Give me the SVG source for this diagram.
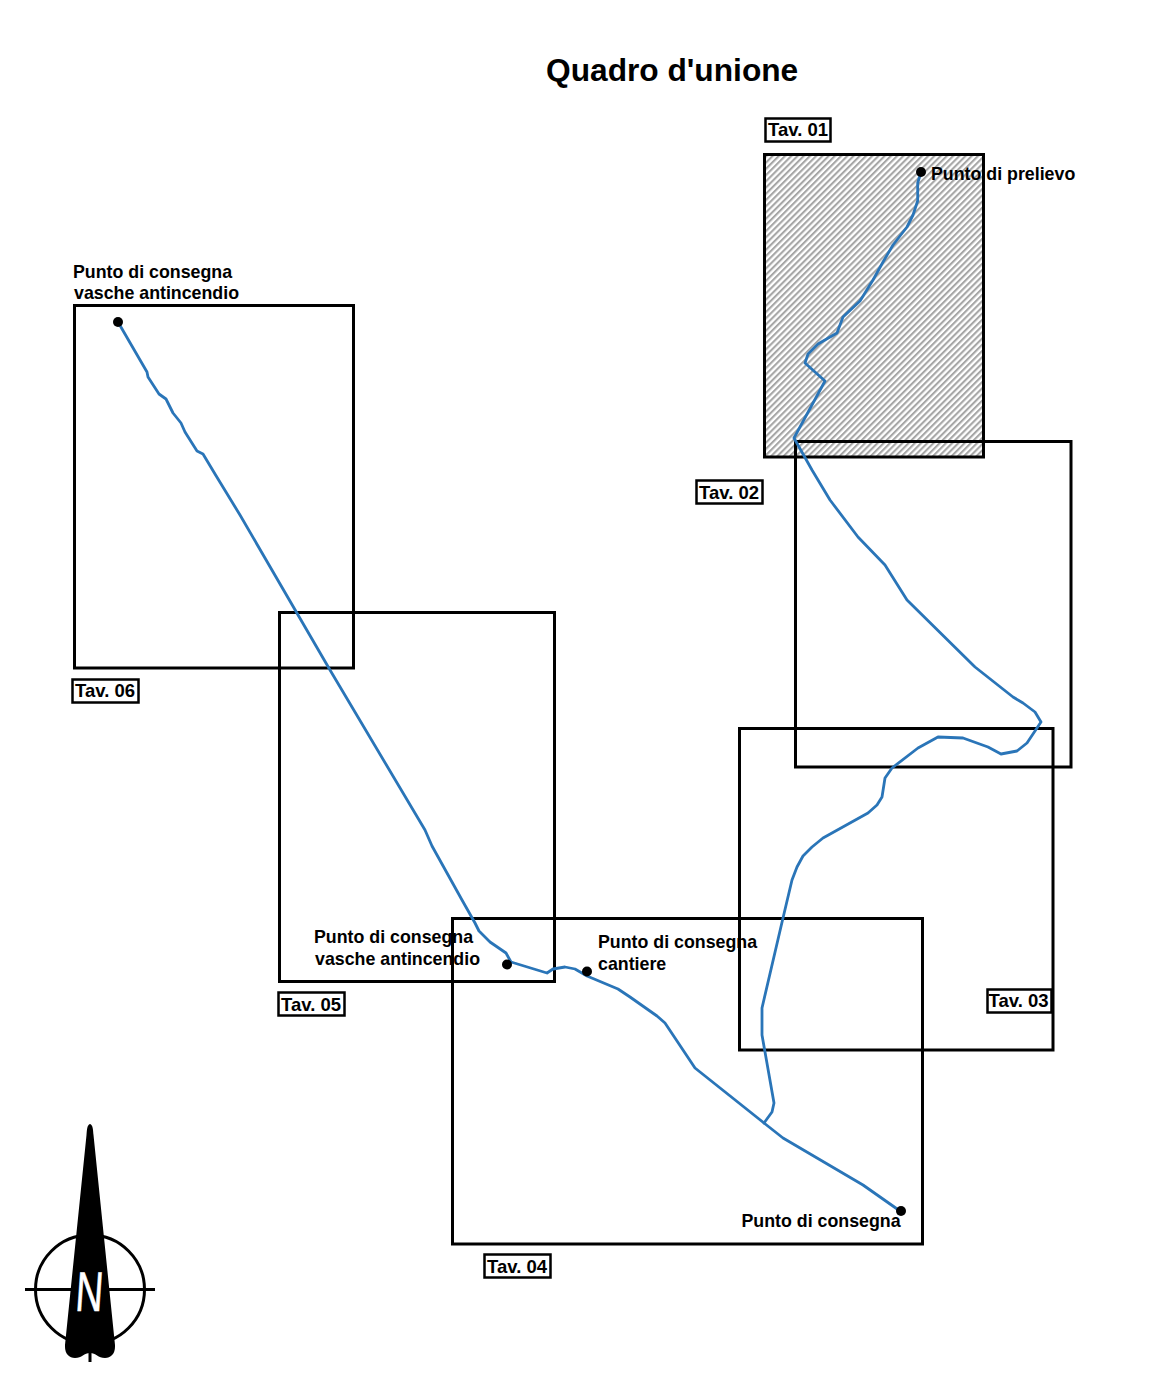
<svg xmlns="http://www.w3.org/2000/svg" width="1155" height="1400" viewBox="0 0 1155 1400">
<defs>
<pattern id="hatch" width="4.4" height="4.4" patternUnits="userSpaceOnUse" patternTransform="rotate(45)">
<rect width="4.4" height="4.4" fill="#fff"/>
<rect x="0" width="2.1" height="4.4" fill="#a6a6a6"/>
</pattern>
</defs>
<style>
text{font-family:"Liberation Sans",Arial,sans-serif;font-weight:bold;fill:#000;font-size:17.8px}
.sheet{fill:none;stroke:#000;stroke-width:3}
.tag{fill:#fff;stroke:#000;stroke-width:2.5}
.tagtext{font-size:18.500px}
.pipe{fill:none;stroke:#2a75b8;stroke-width:2.8;stroke-linejoin:round;stroke-linecap:round}
.dot{fill:#000}
</style>
<rect width="1155" height="1400" fill="#fff"/>
<text id="title" x="546" y="80.500" style="font-size:31.700px">Quadro d'unione</text>
<g id="tav01-sheet"><rect x="764.500" y="154.500" width="219" height="302.500" fill="url(#hatch)" stroke="#000" stroke-width="3"/></g>
<g id="tav06-sheet"><rect class="sheet" x="74.500" y="305.500" width="279" height="362.500"/></g>
<g id="tav05-sheet"><rect class="sheet" x="279.500" y="612.500" width="275" height="369"/></g>
<g id="tav02-sheet"><rect class="sheet" x="795.500" y="441.500" width="275.500" height="325.500"/></g>
<g id="tav03-sheet"><rect class="sheet" x="739.500" y="728.500" width="313.500" height="321.500"/></g>
<g id="tav04-sheet"><rect class="sheet" x="452.500" y="918.500" width="470" height="325.500"/></g>
<g id="connectors">
<path class="pipe" d="M118 322L147 372L148 377L159 394L166 399L173 413L181 423L185 432L197 451L203 454L215 474L240 515L330 670L425 830L432 846L462 900L475 923L479 931L490 942L506 953L511 962L547 973L553 969L565 967L575 969L587 976L618 989L630 997L657 1016L665 1023L695 1068L764 1123L783 1138L863 1185L900 1211"/>
<path class="pipe" d="M921 172L917.700 183L917.700 200.700L913 215L907 227L893 245L883 262L873 280L860 301L843 317L837 333L818 344L808 354L805 363L825 381L794 438L812 470L830 500L858 537L885 565L907 600L975 667L1013 697L1023 703L1035 712L1041 722L1027 743L1017 751L1001 754L988 747L963 738L938 737L918 748L892 768L885 778L882 797L877 805L868 813L823 838L812 847L803 856L797 867L792 880L783 918L762 1008L762 1035L774 1103L772 1112L764 1123"/>
</g>
<g id="point-prelievo"><circle class="dot" cx="921" cy="172" r="5"/><text x="931" y="180">Punto di prelievo</text></g>
<g id="point-vasche-1"><circle class="dot" cx="118" cy="322" r="5"/><text x="73" y="278">Punto di consegna</text><text x="74" y="299">vasche antincendio</text></g>
<g id="point-vasche-2"><circle class="dot" cx="507" cy="964.500" r="5"/><text x="314" y="943">Punto di consegna</text><text x="315" y="964.500">vasche antincendio</text></g>
<g id="point-cantiere"><circle class="dot" cx="587" cy="971.500" r="5"/><text x="598" y="948">Punto di consegna</text><text x="598" y="969.500">cantiere</text></g>
<g id="point-consegna"><circle class="dot" cx="901" cy="1211" r="5"/><text x="741.500" y="1227">Punto di consegna</text></g>
<g id="tag01"><rect class="tag" x="765.500" y="118.500" width="65" height="23"/><text class="tagtext" x="768" y="136">Tav. 01</text></g>
<g id="tag02"><rect class="tag" x="696.500" y="480.500" width="66" height="23"/><text class="tagtext" x="699" y="498.500">Tav. 02</text></g>
<g id="tag03"><rect class="tag" x="987.500" y="989.500" width="64" height="23"/><text class="tagtext" x="988.500" y="1007">Tav. 03</text></g>
<g id="tag04"><rect class="tag" x="484.500" y="1254.500" width="66" height="23"/><text class="tagtext" x="487" y="1272.500">Tav. 04</text></g>
<g id="tag05"><rect class="tag" x="278.500" y="992.500" width="66" height="23"/><text class="tagtext" x="281" y="1010.500">Tav. 05</text></g>
<g id="tag06"><rect class="tag" x="72.500" y="679.500" width="66" height="23"/><text class="tagtext" x="75" y="697">Tav. 06</text></g>
<g id="north-arrow">
<circle cx="90" cy="1289.500" r="54.500" fill="none" stroke="#000" stroke-width="3"/>
<path d="M25 1289.500H155M90 1345V1362" stroke="#000" stroke-width="3" fill="none"/>
<path d="M90 1124C87 1125 87 1130 86.500 1135L65 1345C64.500 1354 69 1358 75 1358C82 1358 84 1353 90 1353C96 1353 98 1358 105 1358C111 1358 115.500 1354 115 1345L93.500 1135C93 1130 93 1125 90 1124Z" fill="#000"/>
<text transform="translate(74.500 1310.500) skewX(-4) scale(.68 1)" style="font-size:56px;font-weight:normal;fill:#fff;stroke:#fff;stroke-width:.6">N</text>
</g>
</svg>
